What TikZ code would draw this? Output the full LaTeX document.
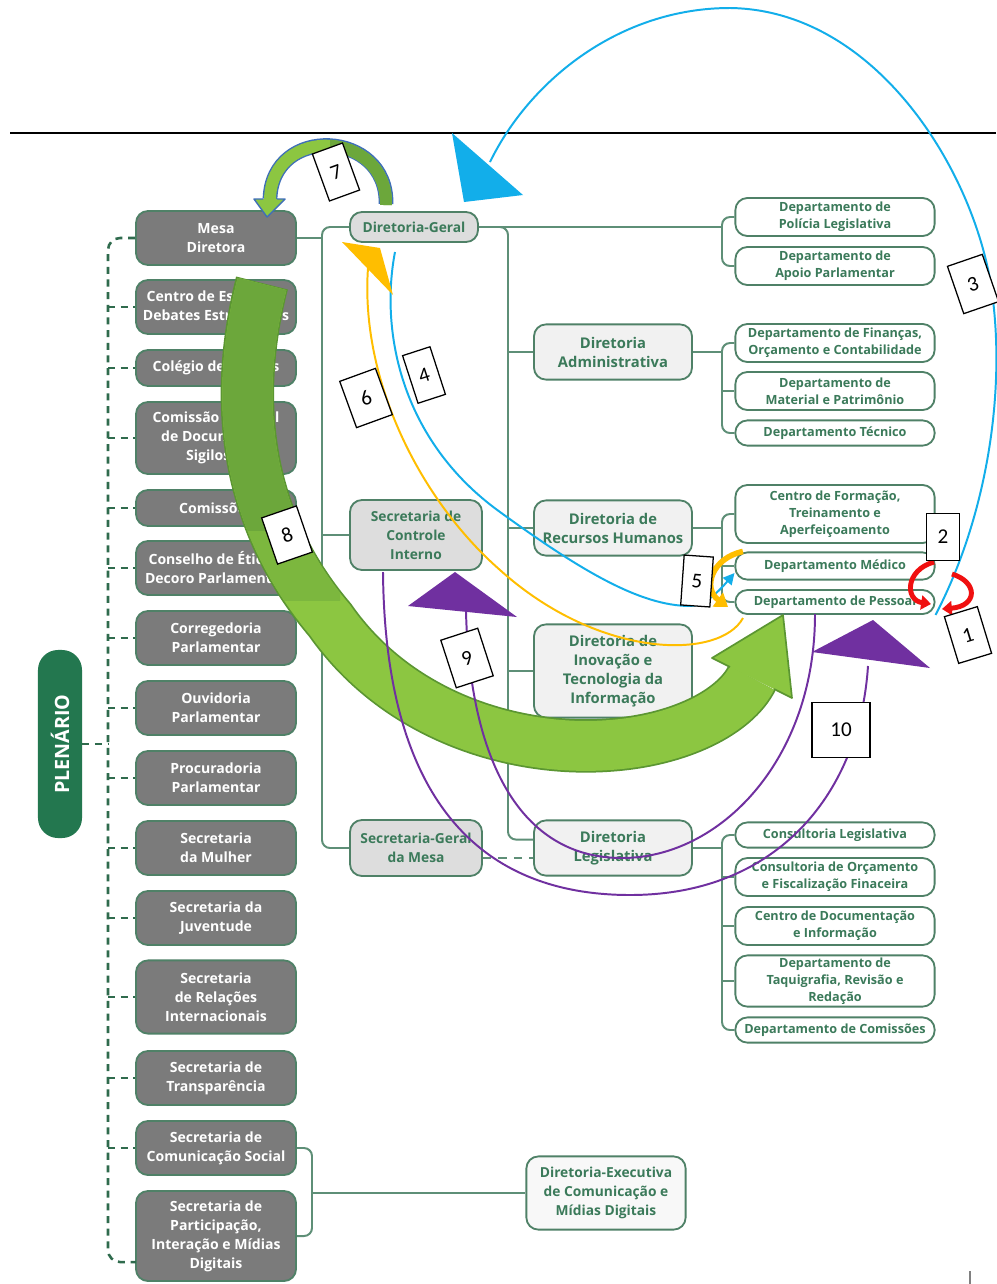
\documentclass[tikz,border=0pt]{standalone}
\usepackage{fontspec}
\setmainfont{Open Sans}
\newfontfamily\numfont{Carlito}
\usetikzlibrary{arrows.meta}

\definecolor{boxgray}{HTML}{7B7B7B}
\definecolor{boxline}{HTML}{4F8167}
\definecolor{lnk}{HTML}{5E8F77}
\definecolor{txtgreen}{HTML}{3B7A5A}
\definecolor{dirfill}{HTML}{F1F1F1}
\definecolor{topfill}{HTML}{DDDDDD}
\definecolor{plengreen}{HTML}{23774F}
\definecolor{dashgreen}{HTML}{2F6B4D}
\definecolor{arrblue}{HTML}{12AEEA}
\definecolor{arrorange}{HTML}{FFBE00}
\definecolor{arrpurple}{HTML}{7030A0}
\definecolor{arrred}{HTML}{F01010}
\definecolor{bigleaf}{HTML}{8CC641}
\definecolor{midleaf}{HTML}{7CB73E}
\definecolor{darkleaf}{HTML}{6CA73B}
\definecolor{leafedge}{HTML}{5B9632}
\definecolor{edgeblue}{HTML}{3F6FB8}

\tikzset{
  graybox/.style={draw=boxline, line width=1.3pt, fill=boxgray, rounded corners=0.3cm, text=white,
    font=\bfseries\fontsize{10}{13.5}\selectfont, align=center, minimum width=4cm, minimum height=1.35cm, inner sep=1pt},
  dirbox/.style={draw=boxline, line width=1.3pt, fill=dirfill, rounded corners=0.3cm, text=txtgreen,
    font=\bfseries\fontsize{10.5}{13.5}\selectfont, align=center, minimum width=3.95cm, minimum height=1.38cm, inner sep=1pt},
  topbox/.style={dirbox, fill=topfill, font=\bfseries\fontsize{9.8}{13.5}\selectfont, minimum width=3.3cm},
  deptbox/.style={draw=boxline, line width=1.3pt, fill=white, rounded corners=0.3cm, text=txtgreen,
    font=\bfseries\fontsize{9}{12}\selectfont, align=center, minimum width=4.98cm, minimum height=0.95cm, inner sep=1pt},
  link/.style={draw=lnk, line width=1.4pt, rounded corners=0.2cm},
  dashlink/.style={draw=dashgreen, line width=1.8pt, dash pattern=on 5pt off 4pt, rounded corners=0.3cm},
  numbox/.style={draw=black, line width=0.9pt, fill=white, font=\numfont\fontsize{15}{15}\selectfont,
    minimum width=0.85cm, minimum height=1.22cm, inner sep=0pt},
  thinarc/.style={line width=1.4pt},
}

\begin{document}
\begin{tikzpicture}[x=0.025cm, y=-0.025cm]
\useasboundingbox (0,0) rectangle (996,1284);
\fill[white] (0,0) rectangle (996,1284);

\draw[line width=1.4pt] (10,133) -- (996,133);

% coluna da Mesa
\node[graybox] (mesa) at (216,238) {Mesa\\Diretora};
\node[graybox] (ceds) at (216,307) {Centro de Estudos e\\Debates Estratégicos};
\node[graybox, minimum height=0.9cm] (colegio) at (216,368) {Colégio de Líderes};
\node[graybox, minimum height=1.8cm] (cedoc) at (216,438) {Comissão Especial\\de Documentos\\Sigilosos};
\node[graybox, minimum height=0.9cm] (comissoes) at (216,508) {Comissões};
\node[graybox] (etica) at (216,568) {Conselho de Ética e\\Decoro Parlamentar};
\node[graybox] (correg) at (216,638) {Corregedoria\\Parlamentar};
\node[graybox] (ouvid) at (216,708) {Ouvidoria\\Parlamentar};
\node[graybox] (procur) at (216,778) {Procuradoria\\Parlamentar};
\node[graybox] (mulher) at (216,848) {Secretaria\\da Mulher};
\node[graybox] (juvent) at (216,918) {Secretaria da\\Juventude};
\node[graybox, minimum height=1.83cm] (relint) at (216,997) {Secretaria\\de Relações\\Internacionais};
\node[graybox] (transp) at (216,1078) {Secretaria de\\Transparência};
\node[graybox] (secom) at (216,1148) {Secretaria de\\Comunicação Social};
\node[graybox, minimum height=2.25cm] (particip) at (216,1236) {Secretaria de\\Participação,\\Interação e Mídias\\Digitais};

\node[fill=plengreen, rounded corners=0.5cm, minimum width=4.7cm, minimum height=1.1cm, rotate=90,
  text=white, font=\bfseries\fontsize{14}{14}\selectfont] (plenario) at (60,744) {PLENÁRIO};

% linha tracejada
\coordinate (spine) at (108,238);
\coordinate (pbot) at (136,1262);
\draw[dashlink] (mesa.west) -- (spine) -- (spine |- pbot) -- (pbot);
\foreach \b in {ceds,colegio,cedoc,comissoes,etica,correg,ouvid,procur,mulher,juvent,relint,transp,secom}
  \draw[dashlink] (spine |- \b.west) -- (\b.west);
\draw[dashlink] (plenario.south) -- (spine |- plenario.south);

% segundo nivel
\node[topbox, minimum width=3.2cm, minimum height=0.75cm] (dg) at (414,227) {Diretoria-Geral};
\node[topbox, minimum height=1.75cm] (sci) at (416,535) {Secretaria de\\Controle\\Interno};
\node[topbox, minimum height=1.4cm] (sgm) at (416,848) {Secretaria-Geral\\da Mesa};

\coordinate (trunk) at (322,238);
\draw[link] (mesa.east) -- (trunk);
\draw[link] (dg.west) -- (trunk |- dg.west) -- (trunk |- sgm.west) -- (sgm.west);
\draw[link] (sci.west) -- (trunk |- sci.west);

% diretorias
\node[dirbox] (dadm) at (613,352) {Diretoria\\Administrativa};
\node[dirbox] (drh) at (613,528) {Diretoria de\\Recursos Humanos};
\node[dirbox, minimum height=2.33cm] (dit) at (613,671) {Diretoria de\\Inovação e\\Tecnologia da\\Informação};
\node[dirbox] (dleg) at (613,848) {Diretoria\\Legislativa};

\coordinate (dtrunk) at (508,227);
\coordinate (dlegin) at ([yshift=6pt]dleg.west);
\draw[link] (dg.east) -- (dtrunk) -- (dtrunk |- dlegin) -- (dlegin);
\foreach \d in {dadm,drh,dit}
  \draw[link] (dtrunk |- \d.west) -- (\d.west);
\draw[link, rounded corners=0, dash pattern=on 6pt off 5pt] ([yshift=-7pt]sgm.east) -- ([yshift=-7pt]dleg.west);

% departamentos
\node[deptbox] (dpol) at (835,217) {Departamento de\\Polícia Legislativa};
\node[deptbox] (dapoio) at (835,266) {Departamento de\\Apoio Parlamentar};
\node[deptbox] (dfin) at (835,343) {Departamento de Finanças,\\Orçamento e Contabilidade};
\node[deptbox] (dmat) at (835,391) {Departamento de\\Material e Patrimônio};
\node[deptbox, minimum height=0.63cm] (dtec) at (835,433) {Departamento Técnico};
\node[deptbox, minimum height=1.45cm] (cfor) at (835,514) {Centro de Formação,\\Treinamento e\\Aperfeiçoamento};
\node[deptbox, minimum height=0.68cm] (dmed) at (835,566) {Departamento Médico};
\node[deptbox, minimum height=0.6cm] (dpes) at (835,602) {Departamento de Pessoal};
\node[deptbox, minimum height=0.63cm] (cleg) at (835,835) {Consultoria Legislativa};
\node[deptbox] (corc) at (835,877) {Consultoria de Orçamento\\e Fiscalização Finaceira};
\node[deptbox] (cdoc) at (835,926) {Centro de Documentação\\e Informação};
\node[deptbox, minimum height=1.28cm] (dtaq) at (835,981) {Departamento de\\Taquigrafia, Revisão e\\Redação};
\node[deptbox, minimum height=0.63cm] (dcom) at (835,1030) {Departamento de Comissões};

\coordinate (brx) at (722,0);
\draw[link] (dg.east) -- (brx |- dg.east);
\draw[link] (dpol.west) -- (brx |- dpol.west) -- (brx |- dapoio.west) -- (dapoio.west);
\draw[link] (dadm.east) -- (brx |- dadm.east);
\draw[link] (dfin.west) -- (brx |- dfin.west) -- (brx |- dtec.west) -- (dtec.west);
\draw[link] (brx |- dmat.west) -- (dmat.west);
\draw[link] (drh.east) -- (brx |- drh.east);
\draw[link] (cfor.west) -- (brx |- cfor.west) -- (brx |- dpes.west) -- (dpes.west);
\draw[link] (brx |- dmed.west) -- (dmed.west);
\draw[link] (dleg.east) -- (brx |- dleg.east);
\draw[link] (cleg.west) -- (brx |- cleg.west) -- (brx |- dcom.west) -- (dcom.west);
\foreach \d in {corc,cdoc,dtaq}
  \draw[link] (brx |- \d.west) -- (\d.west);

% comunicacao
\node[dirbox, fill=white!50!dirfill, font=\bfseries\fontsize{9.8}{13.5}\selectfont, minimum width=3.98cm,
  minimum height=1.83cm] (dexec) at (606,1193) {Diretoria-Executiva\\de Comunicação e\\Mídias Digitais};
\coordinate (secbr) at (312,1193);
\draw[link] (secom.east) -- (secbr |- secom.east) -- (secbr |- particip.east) -- (particip.east);
\draw[link] (secbr) -- (dexec.west);

\draw[gray, line width=1pt] (970,1271) -- (970,1284);

% seta verde 8
\draw[leafedge, line width=38pt] (262,283) .. controls (232,400) and (245,520) .. (330,620) .. controls (400,720) and (520,752) .. (610,745) .. controls (680,740) and (735,712) .. (752,678);
\draw[bigleaf, line width=35.5pt] (262,284) .. controls (232,400) and (245,520) .. (330,620) .. controls (400,720) and (520,752) .. (610,745) .. controls (680,740) and (735,712) .. (752,678);
\begin{scope}
  \clip (190,270) rectangle (340,600);
  \draw[midleaf, line width=35.5pt] (262,284) .. controls (232,400) and (245,520) .. (330,620);
  \clip (190,270) rectangle (340,530);
  \draw[darkleaf, line width=35.5pt] (262,284) .. controls (232,400) and (245,520) .. (330,620);
\end{scope}
\fill[bigleaf] (712,658) -- (783,615) -- (792,698) -- cycle;
\draw[leafedge, line width=1.2pt, line join=round] (730,667) -- (712,658) -- (783,615) -- (792,698) -- (774,689);

% seta verde 7
\draw[edgeblue, line width=10.5pt] (386,204) .. controls (388,130) and (272,124) .. (270,199);
\draw[bigleaf, line width=8.5pt] (386,205) .. controls (388,130) and (272,124) .. (270,199);
\begin{scope}
  \clip (330,110) rectangle (400,215);
  \draw[darkleaf, line width=8.5pt] (386,205) .. controls (388,130) and (272,124) .. (270,199);
\end{scope}
\fill[bigleaf] (254,199) -- (267,217) -- (285,199) -- cycle;
\draw[edgeblue, line width=1pt, line join=round] (263,199) -- (254,199) -- (267,217) -- (285,199) -- (277,199);

% azul 3 e 4
\coordinate (b3tip) at (490,162);
\draw[arrblue, thinarc] (dpes.south east) .. controls (985,520) and (1005,400) .. (993,300)
  .. controls (980,180) and (880,10) .. (730,8) .. controls (620,8) and (530,80) .. (b3tip);
\fill[arrblue] (452,133) -- (464,202) -- (523,195) -- cycle;
\coordinate (b4a) at (395,252);
\draw[arrblue, thinarc, -{Triangle[length=8pt,width=8pt]}] (b4a) .. controls (380,330) and (400,440) .. (500,512)
  .. controls (580,570) and (640,606) .. (690,606) .. controls (705,606) and (720,590) .. ([yshift=-5pt]dmed.west);

% laranja 6 e 5
\coordinate (o6a) at (743,618);
\draw[arrorange, thinarc] (o6a) .. controls (720,660) and (600,660) .. (500,570) .. controls (420,500) and (360,380) .. (368,268);
\fill[arrorange] (342,242) -- (380,248) -- (393,295) -- cycle;
\draw[arrorange, line width=4pt, -{Triangle[length=9pt,width=12pt]}] ([xshift=6pt]dmed.north west) .. controls (712,558) and (702,588) .. (728,607);

% vermelho 2 e 1
\draw[arrred, line width=3.5pt, -{Triangle[length=7pt,width=10pt]}] (934,562) .. controls (905,570) and (905,600) .. (931,604);
\draw[arrred, line width=3.5pt, -{Triangle[length=7pt,width=10pt]}] (952,574) .. controls (978,582) and (978,606) .. (942,609);

% roxo 9 e 10
\coordinate (p9a) at (815,614);
\draw[arrpurple, thinarc] (p9a) .. controls (815,760) and (720,858) .. (622,858) .. controls (520,858) and (470,760) .. (466,612);
\fill[arrpurple] (455,572) -- (408,606) -- (517,617) -- cycle;
\coordinate (p10a) at (383,572);
\draw[arrpurple, thinarc] (p10a) .. controls (385,800) and (480,895) .. (630,895) .. controls (780,895) and (860,790) .. (868,666);
\fill[arrpurple] (873,620) -- (812,652) -- (930,668) -- cycle;

% numeros
\node[numbox, rotate=20, minimum width=0.8cm, minimum height=1.25cm] (n7) at (336,172) {7};
\node[numbox, rotate=19, minimum width=0.92cm, minimum height=1.25cm] (n3) at (973,284) {3};
\node[numbox, rotate=18, minimum width=0.72cm, minimum height=1.25cm] (n4) at (424,375) {4};
\node[numbox, rotate=20, minimum width=0.95cm, minimum height=1.23cm] (n6) at (366,398) {6};
\node[numbox, rotate=19, minimum width=0.92cm, minimum height=1.22cm] (n8) at (287,535) {8};
\node[numbox, rotate=18, minimum width=0.97cm, minimum height=1.25cm] (n9) at (467,658) {9};
\node[numbox, rotate=-4, minimum width=0.73cm, minimum height=1.25cm] (n5) at (697,581) {5};
\node[numbox, minimum width=0.83cm, minimum height=1.18cm] (n2) at (943,537) {2};
\node[numbox, rotate=17, minimum width=0.86cm, minimum height=1.22cm] (n1) at (968,635) {1};
\node[numbox, minimum width=1.45cm, minimum height=1.38cm] (n10) at (841,730) {10};

\end{tikzpicture}
\end{document}
